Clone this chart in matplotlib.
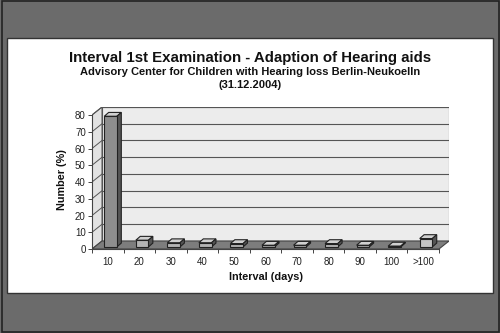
import matplotlib
matplotlib.use("Agg")
import matplotlib.pyplot as plt
from matplotlib.patches import Polygon, Rectangle

plt.rcParams['font.family'] = ['Liberation Sans', 'DejaVu Sans']

categories = ['10', '20', '30', '40', '50', '60', '70', '80', '90', '100', '>100']
values = [78, 4, 2.5, 2.5, 2, 1, 1, 2, 1, 0.5, 5]
face_colors = ['#8e8e8e', '#b4b4b4', '#b4b4b4', '#b4b4b4', '#b4b4b4', '#a0a0a0',
               '#a0a0a0', '#b4b4b4', '#a0a0a0', '#a0a0a0', '#c4c4c4']
yticks = list(range(0, 81, 10))

fig = plt.figure(figsize=(5, 3.33), dpi=100)
fig.patch.set_facecolor('#6b6b6b')


# figure pixels -> fractions
def fx(px):
    return px / 500


def fy(py):
    return 1 - py / 333


# white panel and outer frame
fig.patches.append(Rectangle((fx(7), fy(293)), fx(493) - fx(7), fy(38) - fy(293),
                             transform=fig.transFigure, facecolor='white',
                             edgecolor='#333333', lw=1.0, zorder=-2))
fig.patches.append(Rectangle((0.003, 0.003), 0.994, 0.994, transform=fig.transFigure,
                             facecolor='none', edgecolor='#222222', lw=1.2, zorder=-2))

fig.text(0.5, fy(58), 'Interval 1st Examination - Adaption of Hearing aids',
         ha='center', va='center', fontsize=10.8, fontweight='bold', color='#111111')
fig.text(0.5, fy(72), 'Advisory Center for Children with Hearing loss Berlin-Neukoelln',
         ha='center', va='center', fontsize=8, fontweight='bold', color='#111111')
fig.text(0.5, fy(84.5), '(31.12.2004)',
         ha='center', va='center', fontsize=8, fontweight='bold', color='#111111')

DX = 0.318   # wall depth in category units
DY = 4.78    # wall depth in value units
n = len(categories)

ax = fig.add_axes([fx(92), fy(249), fx(449) - fx(92), fy(107) - fy(249)])
ax.set_zorder(2)
ax.set_xlim(-0.5, n - 0.5 + DX)
ax.set_ylim(0, 80 + DY)
ax.patch.set_visible(False)

# back wall, left wall, floor
ax.add_patch(Rectangle((-0.5 + DX, DY), n, 80, facecolor='#ececec',
                       edgecolor='#555555', lw=0.8, zorder=1))
ax.add_patch(Polygon([(-0.5, 0), (-0.5 + DX, DY), (-0.5 + DX, 80 + DY), (-0.5, 80)],
                     closed=True, facecolor='#e2e2e2', edgecolor='#555555', lw=0.8, zorder=1))
for t in yticks[1:]:
    ax.plot([-0.5 + DX, n - 0.5 + DX], [t + DY, t + DY], color='#555555', lw=0.8, zorder=2)
    ax.plot([-0.5, -0.5 + DX], [t, t + DY], color='#555555', lw=0.7, zorder=2)
ax.add_patch(Polygon([(-0.5, 0), (n - 0.5, 0), (n - 0.5 + DX, DY), (-0.5 + DX, DY)],
                     closed=True, facecolor='#7d7d7d', edgecolor='#444444', lw=0.8, zorder=2))

# 3D-looking bars
bw = 0.4
bdx, bdy = 0.14, 2.3
ox, oy = (DX - bdx) / 2, (DY - bdy) / 2
xs = [i + ox for i in range(n)]
ax.bar(xs, values, width=bw, bottom=oy, color=face_colors, edgecolor='#222222',
       lw=0.8, zorder=4)
for x, v in zip(xs, values):
    x0, x1 = x - bw / 2, x + bw / 2
    top = oy + v
    ax.add_patch(Polygon([(x0, top), (x0 + bdx, top + bdy), (x1 + bdx, top + bdy), (x1, top)],
                         closed=True, facecolor='#d0d0d0', edgecolor='#222222', lw=0.8, zorder=3))
    ax.add_patch(Polygon([(x1, oy), (x1 + bdx, oy + bdy), (x1 + bdx, top + bdy), (x1, top)],
                         closed=True, facecolor='#555555', edgecolor='#222222', lw=0.8, zorder=3))

# axes lines and ticks
for s in ['top', 'right']:
    ax.spines[s].set_visible(False)
ax.spines['left'].set_bounds(0, 80)
ax.spines['bottom'].set_bounds(-0.5, n - 0.5)
ax.spines['left'].set_color('#444444')
ax.spines['bottom'].set_color('#444444')
ax.set_yticks(yticks)
ax.set_yticklabels([str(t) for t in yticks], fontsize=7, color='#222222')
ax.tick_params(axis='y', length=3, width=0.7, color='#444444', pad=1.5)
ax.set_xticks(range(n))
ax.set_xticklabels(categories, fontsize=7, color='#222222')
ax.set_xticks([i - 0.5 for i in range(n + 1)], minor=True)
ax.tick_params(axis='x', which='major', length=0, pad=6)
ax.tick_params(axis='x', which='minor', length=3, width=0.7, color='#444444')

fig.text(fx(62), fy(180), 'Number (%)', rotation=90, ha='center', va='center',
         fontsize=7.8, fontweight='bold', color='#111111')
fig.text(fx(266), fy(277), 'Interval (days)', ha='center', va='center',
         fontsize=7.8, fontweight='bold', color='#111111')

fig.savefig('out.png', dpi=100, facecolor=fig.get_facecolor())
